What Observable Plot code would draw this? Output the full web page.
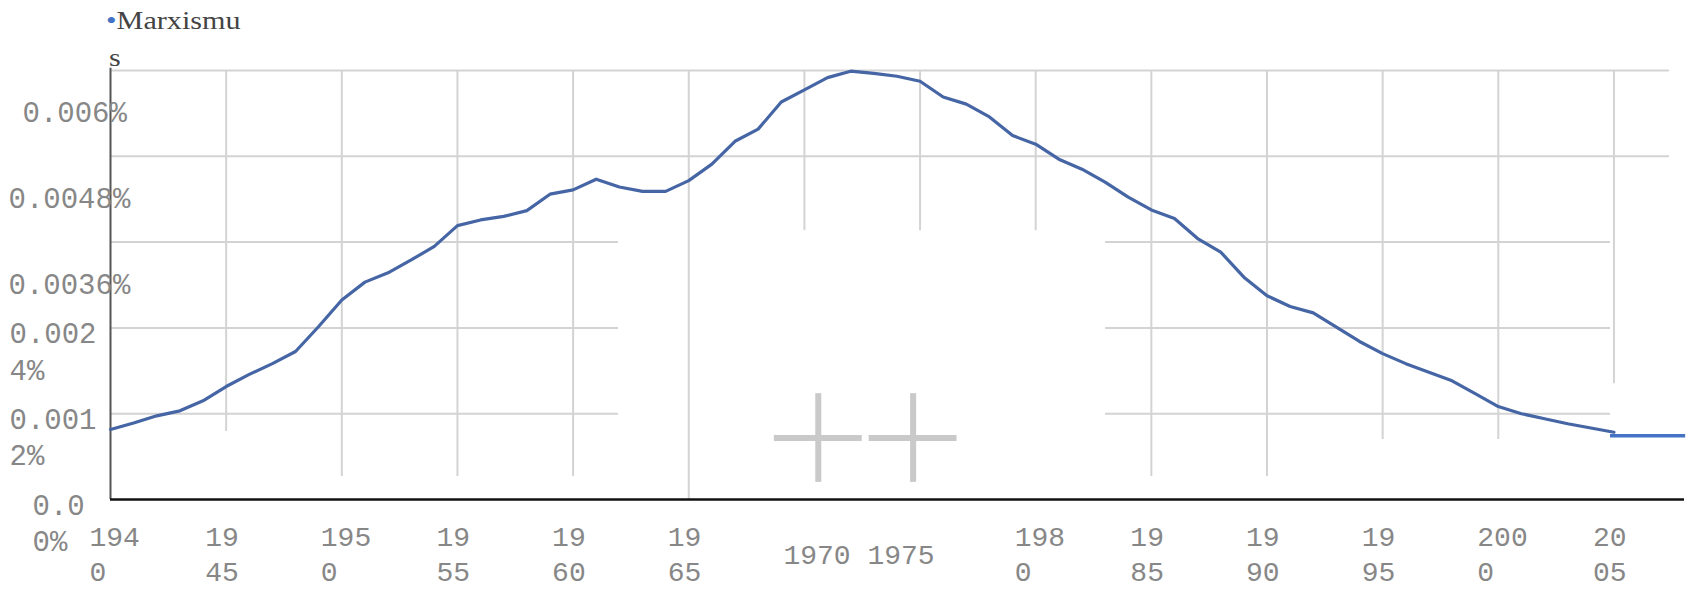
<!DOCTYPE html>
<html>
<head>
<meta charset="utf-8">
<script src="https://cdn.jsdelivr.net/npm/d3@7"></script>
<script src="https://cdn.jsdelivr.net/npm/@observablehq/plot@0.6"></script>
<style>
  html, body { margin: 0; padding: 0; background: #fff; }
  #wrap { position: relative; width: 1690px; height: 591px; }
  .leg { position: absolute; font-family: "Liberation Serif", serif; font-size: 26px; line-height: 26px; color: #444; white-space: nowrap; transform: scaleX(1.16); transform-origin: left top; }
  .leg .dot { color: #4472C4; }
</style>
</head>
<body>
<div id="wrap">
  <div id="chart"></div>
  <div class="leg" id="leg1" style="left:106px; top:8px;"></div>
  <div class="leg" id="leg2" style="left:109px; top:45px;"></div>
</div>
<script>
// ---- data ----
const years = d3.range(1940, 2006);
const shares = [
  0.00098, 0.00107, 0.00117, 0.00124, 0.00138, 0.00158, 0.00175, 0.00190, 0.00207, 0.00242,
  0.00279, 0.00304, 0.00317, 0.00335, 0.00354, 0.00383, 0.00391, 0.00396, 0.00404, 0.00427,
  0.00433, 0.00448, 0.00437, 0.00431, 0.00431, 0.00446, 0.00469, 0.00501, 0.00518, 0.00556,
  0.00573, 0.00590, 0.00599, 0.00596, 0.00592, 0.00585, 0.00563, 0.00553, 0.00535, 0.00509,
  0.00497, 0.00476, 0.00462, 0.00444, 0.00423, 0.00405, 0.00393, 0.00365, 0.00346, 0.00311,
  0.00285, 0.00270, 0.00261, 0.00241, 0.00221, 0.00204, 0.00190, 0.00178, 0.00166, 0.00148,
  0.00130, 0.00120, 0.00113, 0.00106, 0.00100, 0.00094
];
const xTicks = [1940, 1945, 1950, 1955, 1960, 1965, 1970, 1975, 1980, 1985, 1990, 1995, 2000, 2005];
const xTickLabels = ["194\n0", "19\n45", "195\n0", "19\n55", "19\n60", "19\n65", "1970 1975", "", "198\n0", "19\n85", "19\n90", "19\n95", "200\n0", "20\n05"];
const yTicks = [0, 0.0012, 0.0024, 0.0036, 0.0048, 0.006];
const yTickLabels = ["0.0\n0%", "0.001\n2%", "0.002\n4%", "0.0036%", "0.0048%", "0.006%"];
const seriesName = ["Marxismu", "s"];
const crossYears = [1970.6, 1974.7];
const crossValue = 0.00086;
const tailYears = [2004.85, 2008.1];
const tailValue = 0.00089;

// ---- layout (not data) ----
const gridBottom = {1945: 0.00095, 1950: 0.00032, 1955: 0.00032, 1960: 0.00032, 1965: 0, 1970: 0.00376, 1975: 0.00376, 1980: 0.00376, 1985: 0.00032, 1990: 0.00032, 1995: 0.00084, 2000: 0.00084, 2005: 0.00162};
const hGridSegments = {
  0.006: [[1940, 2007.4]],
  0.0048: [[1940, 2007.4]],
  0.0036: [[1940, 1961.96], [1983.02, 2004.85]],
  0.0024: [[1940, 1961.96], [1983.02, 2004.85]],
  0.0012: [[1940, 1961.96], [1983.02, 2004.85]]
};
const yLabelLeft = [32, 9, 9, 8, 8, 22];
const gridColor = "#d3d3d3";
const tickFont = "Liberation Mono, DejaVu Sans Mono, monospace";
const tickColor = "#878787";

const data = years.map((year, i) => ({year, share: shares[i]}));
const vGrid = xTicks.filter(t => t in gridBottom).map(t => ({x: t, bottom: gridBottom[t]}));
const hGrid = [];
for (const v of yTicks) {
  for (const seg of (hGridSegments[v] || [])) hGrid.push({y: v, x1: seg[0], x2: seg[1]});
}

const marks = [
  Plot.ruleX(vGrid, {x: "x", y1: "bottom", y2: 0.006, stroke: gridColor, strokeWidth: 2}),
  Plot.ruleY(hGrid, {y: "y", x1: "x1", x2: "x2", stroke: gridColor, strokeWidth: 2}),
  // crosses
  Plot.ruleX(crossYears, {x: d => d, y1: crossValue - 0.00062, y2: crossValue + 0.00062, stroke: "#c9c9c9", strokeWidth: 6}),
  Plot.ruleY(crossYears, {y: () => crossValue, x1: d => d - 1.9, x2: d => d + 1.9, stroke: "#c9c9c9", strokeWidth: 6}),
  // axes lines
  Plot.ruleX([1940], {y1: 0, y2: 0.00603, stroke: "#555", strokeWidth: 2}),
  Plot.ruleY([0], {x1: 1940, x2: 2008.05, stroke: "#111", strokeWidth: 2.5}),
  // series
  Plot.line(data, {x: "year", y: "share", stroke: "#4565a5", strokeWidth: 3.2, strokeLinejoin: "round"}),
  Plot.ruleY([tailValue], {x1: tailYears[0], x2: tailYears[1], stroke: "#4472C4", strokeWidth: 3.5}),
  // x tick labels
  Plot.text(xTicks, {x: d => d, text: (d, i) => xTickLabels[i], frameAnchor: "bottom", dy: 53, dx: -21,
    textAnchor: "start", lineAnchor: "middle", lineHeight: 1.25, fontFamily: tickFont, fontSize: 28, fill: tickColor})
];
yTicks.forEach((v, i) => {
  const label = yTickLabels[i];
  const twoLine = label.includes("\n");
  marks.push(Plot.text([v], {y: d => d, text: () => label, frameAnchor: "left",
    dx: yLabelLeft[i] - 110, dy: twoLine ? 22 : 40, textAnchor: "start", lineAnchor: "middle",
    lineHeight: 1.25, fontFamily: tickFont, fontSize: 29, fill: tickColor}));
});

const chart = Plot.plot({
  width: 1690,
  height: 591,
  marginLeft: 110,
  marginRight: 6,
  marginTop: 70,
  marginBottom: 92,
  x: {type: "linear", domain: [1940, 2008.05], axis: null},
  y: {domain: [0, 0.006], axis: null},
  style: {background: "white", overflow: "visible"},
  marks
});
document.getElementById("chart").appendChild(chart);
document.getElementById("leg1").innerHTML = '<span class="dot">•</span>' + seriesName[0];
document.getElementById("leg2").textContent = seriesName[1];
</script>
</body>
</html>
